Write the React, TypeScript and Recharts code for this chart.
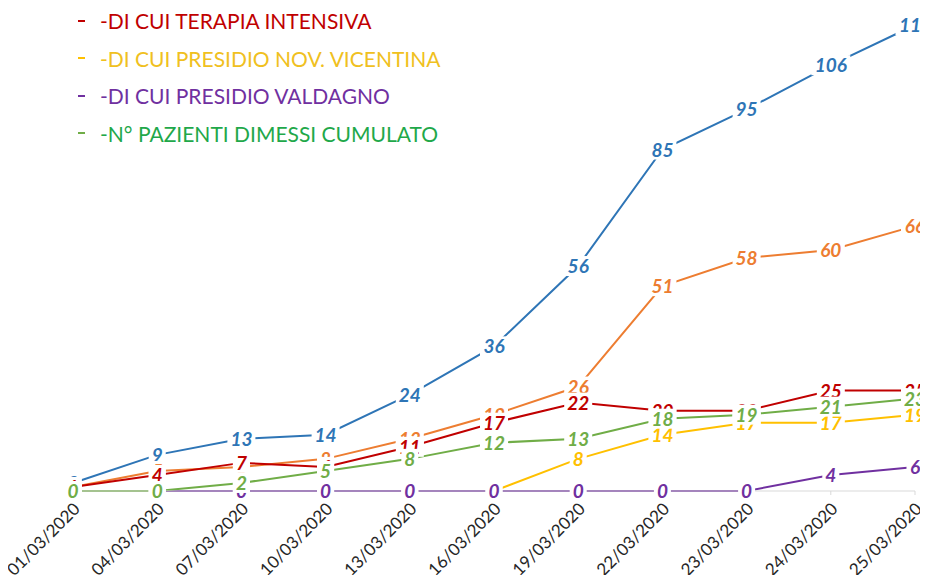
import { LineChart, Line, XAxis, YAxis, Legend, LabelList } from 'recharts';

const dates = [
  '01/03/2020', '04/03/2020', '07/03/2020', '10/03/2020', '13/03/2020', '16/03/2020',
  '19/03/2020', '22/03/2020', '23/03/2020', '24/03/2020', '25/03/2020',
];

const ricoverati = [2, 9, 13, 14, 24, 36, 56, 85, 95, 106, 116];
const altri = [1, 5, 6, 8, 13, 19, 26, 51, 58, 60, 66];
const terapiaIntensiva = [1, 4, 7, 6, 11, 17, 22, 20, 20, 25, 25];
const novVicentina = [0, 0, 0, 0, 0, 0, 8, 14, 17, 17, 19];
const valdagno = [0, 0, 0, 0, 0, 0, 0, 0, 0, 4, 6];
const dimessi = [0, 0, 2, 5, 8, 12, 13, 18, 19, 21, 23];

const data = dates.map((d, i) => ({
  date: d,
  ricoverati: ricoverati[i],
  altri: altri[i],
  terapia: terapiaIntensiva[i],
  vicentina: novVicentina[i],
  valdagno: valdagno[i],
  dimessi: dimessi[i],
}));

const FONT = 'Lato, "Open Sans", sans-serif';

const series = [
  { key: 'ricoverati', color: '#2E75B6', text: '#2E75B6', name: 'RICOVERATI', legend: false },
  { key: 'altri', color: '#ED7D31', text: '#ED7D31', name: 'ALTRI', legend: false },
  { key: 'terapia', color: '#C00000', text: '#C00000', name: '-DI CUI TERAPIA INTENSIVA', legend: true },
  { key: 'vicentina', color: '#FFC000', text: '#F0C020', name: '-DI CUI PRESIDIO NOV. VICENTINA', legend: true },
  { key: 'valdagno', color: '#7030A0', text: '#7030A0', name: '-DI CUI PRESIDIO VALDAGNO', legend: true },
  { key: 'dimessi', color: '#70AD47', text: '#1FA84A', name: '-N° PAZIENTI DIMESSI CUMULATO', legend: true },
];

function makeLabel(color: string) {
  return (props: any) => {
    const { x, y, value } = props;
    if (value == null) return null;
    const w = String(value).length * 11 + 6;
    return (
      <g>
        <rect x={x - w / 2} y={y - 10} width={w} height={20} fill="#FFFFFF" />
        <text
          x={x}
          y={y + 7}
          textAnchor="middle"
          fill={color}
          fontSize={19}
          fontWeight="bold"
          fontStyle="italic"
          fontFamily={FONT}
        >
          {value}
        </text>
      </g>
    );
  };
}

function DateTick(props: any) {
  const { x, y, payload } = props;
  return (
    <text
      transform={`translate(${x + 8},${y + 13}) rotate(-45)`}
      textAnchor="end"
      fontSize={17}
      fill="#262626"
      fontFamily={FONT}
    >
      {payload.value}
    </text>
  );
}

function LegendBox() {
  const items = series.filter((s) => s.legend);
  return (
    <div style={{ fontFamily: FONT }}>
      {items.map((s) => (
        <div key={s.key} style={{ display: 'flex', alignItems: 'center', height: 37.5 }}>
          <span style={{ width: 7, height: 2, backgroundColor: s.color, marginRight: 15 }} />
          <span style={{ color: s.text, fontSize: 21, whiteSpace: 'nowrap' }}>{s.name}</span>
        </div>
      ))}
    </div>
  );
}

export default function App() {
  return (
    <div style={{ width: 920, height: 567, fontFamily: FONT }}>
      <LineChart width={920} height={567} data={data} margin={{ top: 17, right: 13, bottom: 0, left: 65 }}>
        <XAxis
          dataKey="date"
          interval={0}
          height={84}
          tick={<DateTick />}
          tickSize={4}
          axisLine={{ stroke: '#D9D9D9' }}
          tickLine={{ stroke: '#D9D9D9' }}
        />
        <YAxis hide domain={[0, 116]} />
        <Legend
          content={<LegendBox />}
          verticalAlign="middle"
          align="center"
          layout="vertical"
          wrapperStyle={{ top: -6, left: 70, width: 420 }}
        />
        {series.map((s) => (
          <Line
            key={s.key}
            type="linear"
            dataKey={s.key}
            name={s.name}
            stroke={s.color}
            strokeWidth={2}
            dot={false}
            legendType={s.legend ? 'plainline' : 'none'}
            isAnimationActive={false}
          >
            <LabelList dataKey={s.key} content={makeLabel(s.color)} />
          </Line>
        ))}
      </LineChart>
    </div>
  );
}
